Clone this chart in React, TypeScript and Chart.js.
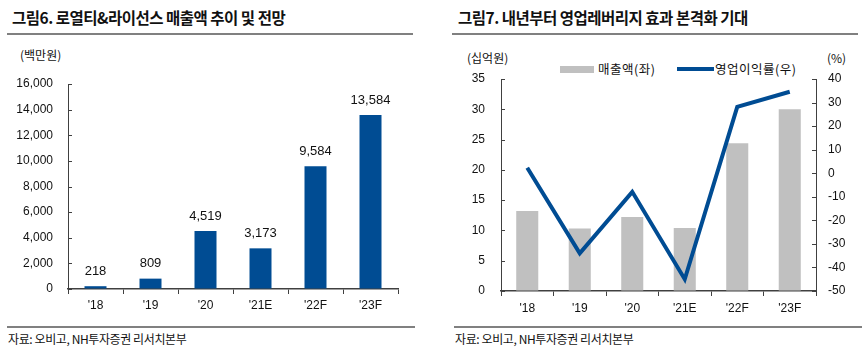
import React, { useEffect, useRef } from "react";
import { Chart, registerables } from "chart.js";

Chart.register(...registerables);

// ---- Data ----
const categories = ["'18", "'19", "'20", "'21E", "'22F", "'23F"];
const royaltyRevenue = [218, 809, 4519, 3173, 9584, 13584];
const salesRevenue = [13.2, 10.3, 12.2, 10.4, 24.4, 30.0];
const operatingMargin = [2.3, -34, -7.9, -45, 28.2, 34.6];

const title1 = "그림6. 로열티&라이선스 매출액 추이 및 전망";
const title2 = "그림7. 내년부터 영업레버리지 효과 본격화 기대";
const unit1 = "(백만원)";
const unitLeft2 = "(십억원)";
const unitRight2 = "(%)";
const legendBar = "매출액(좌)";
const legendLine = "영업이익률(우)";
const source = "자료: 오비고, NH투자증권 리서치본부";

const BLUE = "#004C93";
const GRAY = "#C0C0C0";
const AXIS = "#404040";
const TICK_FONT = "'Liberation Sans Narrow', 'Arial Narrow', Arial, sans-serif";
const KR_FONT = "'Noto Sans CJK KR', 'Noto Sans', sans-serif";

const inwardTicks = {
  id: "inwardTicks",
  afterDraw(chart: any) {
    const ctx = chart.ctx;
    ctx.save();
    ctx.strokeStyle = AXIS;
    ctx.lineWidth = 1;
    for (const id of Object.keys(chart.scales)) {
      const s = chart.scales[id];
      if (s.axis !== "y") continue;
      const isRight = s.position === "right";
      const x0 = isRight ? s.left : s.right;
      const dx = isRight ? -4 : 4;
      s.ticks.forEach((_t: any, i: number) => {
        const y = Math.round(s.getPixelForTick(i)) + 0.5;
        ctx.beginPath();
        ctx.moveTo(x0, y);
        ctx.lineTo(x0 + dx, y);
        ctx.stroke();
      });
    }
    ctx.restore();
  },
};

const barLabels = {
  id: "barLabels",
  afterDatasetsDraw(chart: any, _args: any, opts: any) {
    if (!opts || !opts.enabled) return;
    const ctx = chart.ctx;
    const meta = chart.getDatasetMeta(0);
    const data = chart.data.datasets[0].data as number[];
    ctx.save();
    ctx.fillStyle = "#111";
    ctx.font = `13px ${TICK_FONT}`;
    ctx.textAlign = "center";
    ctx.textBaseline = "middle";
    meta.data.forEach((bar: any, i: number) => {
      ctx.fillText(data[i].toLocaleString("en-US"), bar.x, bar.y - 15);
    });
    ctx.restore();
  },
};

function fixW(w: number) {
  return (s: any) => {
    s.width = w;
  };
}
function fixH(h: number) {
  return (s: any) => {
    s.height = h;
  };
}

function LeftChart() {
  const ref = useRef<HTMLCanvasElement>(null);
  useEffect(() => {
    const chart = new Chart(ref.current!, {
      type: "bar",
      data: {
        labels: categories,
        datasets: [
          {
            data: royaltyRevenue,
            backgroundColor: BLUE,
            categoryPercentage: 1,
            barPercentage: 0.4,
          },
        ],
      },
      options: {
        responsive: false,
        animation: false,
        devicePixelRatio: 1,
        layout: { padding: { top: 84, right: 32, left: 0, bottom: 0 } },
        plugins: {
          legend: { display: false },
          tooltip: { enabled: false },
          barLabels: { enabled: true },
        } as any,
        scales: {
          x: {
            afterFit: fixH(31),
            grid: {
              display: true,
              drawOnChartArea: false,
              drawTicks: true,
              tickLength: 5,
              color: AXIS,
              offset: true,
            },
            border: { display: true, color: AXIS, width: 1.5 },
            ticks: { color: "#111", font: { size: 12, family: TICK_FONT }, padding: 4 },
          },
          y: {
            min: 0,
            max: 16000,
            afterFit: fixW(68),
            grid: { display: true, drawOnChartArea: false, drawTicks: false },
            border: { display: true, color: AXIS, width: 1 },
            ticks: {
              stepSize: 2000,
              padding: 15,
              color: "#111",
              font: { size: 12, family: TICK_FONT },
              callback: (v: any) => Number(v).toLocaleString("en-US"),
            },
          },
        },
      },
      plugins: [inwardTicks, barLabels],
    });
    return () => chart.destroy();
  }, []);
  return (
    <canvas
      ref={ref}
      width={430}
      height={320}
      style={{ position: "absolute", left: 0, top: 0, width: 430, height: 320 }}
    />
  );
}

function RightChart() {
  const ref = useRef<HTMLCanvasElement>(null);
  useEffect(() => {
    const chart = new Chart(ref.current!, {
      type: "bar",
      data: {
        labels: categories,
        datasets: [
          {
            type: "line",
            data: operatingMargin,
            borderColor: BLUE,
            borderWidth: 4,
            pointRadius: 0,
            tension: 0,
            yAxisID: "y1",
            order: 0,
          } as any,
          {
            type: "bar",
            data: salesRevenue,
            backgroundColor: GRAY,
            categoryPercentage: 1,
            barPercentage: 0.42,
            yAxisID: "y",
            order: 1,
          },
        ],
      },
      options: {
        responsive: false,
        animation: false,
        devicePixelRatio: 1,
        layout: { padding: { top: 79, right: 0, left: 0, bottom: 0 } },
        plugins: {
          legend: { display: false },
          tooltip: { enabled: false },
        },
        scales: {
          x: {
            afterFit: fixH(29),
            grid: {
              display: true,
              drawOnChartArea: false,
              drawTicks: true,
              tickLength: 5,
              color: AXIS,
              offset: true,
            },
            border: { display: true, color: AXIS, width: 1.5 },
            ticks: { color: "#111", font: { size: 12, family: TICK_FONT }, padding: 5 },
          },
          y: {
            position: "left",
            min: 0,
            max: 35,
            afterFit: fixW(61),
            grid: { display: true, drawOnChartArea: false, drawTicks: false },
            border: { display: true, color: AXIS, width: 1 },
            ticks: { stepSize: 5, padding: 16, color: "#111", font: { size: 12, family: TICK_FONT } },
          },
          y1: {
            position: "right",
            min: -50,
            max: 40,
            afterFit: fixW(51),
            grid: { display: true, drawOnChartArea: false, drawTicks: false },
            border: { display: true, color: AXIS, width: 1 },
            ticks: { stepSize: 10, padding: 12, color: "#111", font: { size: 12, family: TICK_FONT } },
          },
        },
      },
      plugins: [inwardTicks],
    });
    return () => chart.destroy();
  }, []);
  return (
    <canvas
      ref={ref}
      width={427}
      height={320}
      style={{ position: "absolute", left: 440, top: 0, width: 427, height: 320 }}
    />
  );
}

const abs = (s: React.CSSProperties): React.CSSProperties => ({ position: "absolute", ...s });

export default function App() {
  const titleStyle: React.CSSProperties = {
    fontFamily: KR_FONT,
    fontWeight: 700,
    fontSize: 15.5,
    letterSpacing: -0.5,
    color: "#111",
    whiteSpace: "nowrap",
    lineHeight: "20px",
  };
  const smallKR: React.CSSProperties = {
    fontFamily: KR_FONT,
    fontSize: 12,
    color: "#111",
    whiteSpace: "nowrap",
    lineHeight: "16px",
  };
  return (
    <div style={abs({ left: 0, top: 0, width: 867, height: 355, background: "#fff", overflow: "hidden" })}>
      <div style={abs({ left: 12, top: 7, ...titleStyle })}>{title1}</div>
      <div style={abs({ left: 458, top: 7, ...titleStyle })}>{title2}</div>
      <div style={abs({ left: 7, top: 33, width: 406, height: 2, background: "#808080" })} />
      <div style={abs({ left: 452, top: 33, width: 406, height: 2, background: "#808080" })} />

      <div style={abs({ left: 20, top: 47, ...smallKR })}>{unit1}</div>
      <div style={abs({ left: 467, top: 50, ...smallKR })}>{unitLeft2}</div>
      <div style={abs({ left: 827, top: 50, ...smallKR })}>{unitRight2}</div>

      <div style={abs({ left: 560, top: 66, width: 34, height: 7, background: GRAY })} />
      <div style={abs({ left: 598, top: 61, ...smallKR, fontSize: 12.5, letterSpacing: 0.5 })}>{legendBar}</div>
      <div style={abs({ left: 677, top: 67, width: 37, height: 4, background: BLUE })} />
      <div style={abs({ left: 715, top: 61, ...smallKR, fontSize: 12.5, letterSpacing: 0.5 })}>{legendLine}</div>

      <LeftChart />
      <RightChart />

      <div style={abs({ left: 7, top: 326, width: 408, height: 2, background: "#808080" })} />
      <div style={abs({ left: 454, top: 326, width: 408, height: 2, background: "#808080" })} />
      <div style={abs({ left: 8, top: 331, ...smallKR, letterSpacing: -0.4 })}>{source}</div>
      <div style={abs({ left: 455, top: 331, ...smallKR, letterSpacing: -0.4 })}>{source}</div>
    </div>
  );
}
